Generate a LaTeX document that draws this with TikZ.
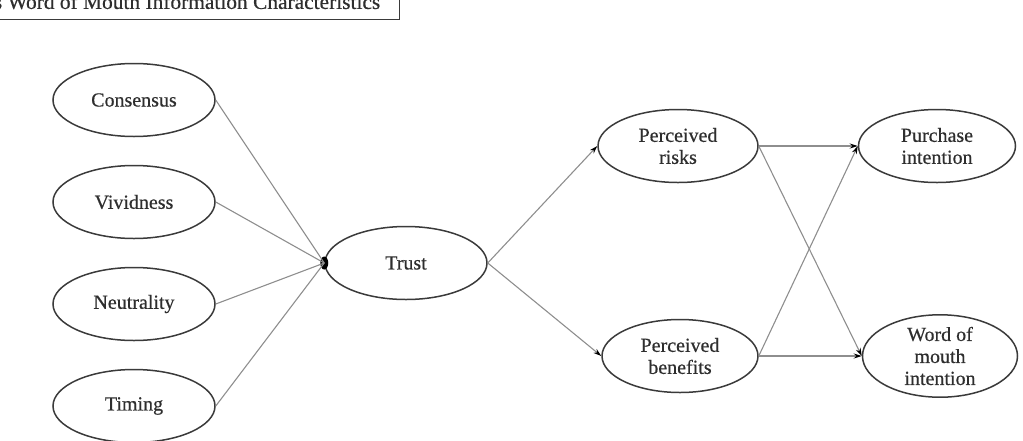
\documentclass[tikz,border=0pt]{standalone}
\usepackage{fontspec}
\setmainfont{Liberation Serif}
\newfontfamily\labelfont[FakeBold=0.5]{Liberation Serif}
\usetikzlibrary{shapes.geometric,arrows.meta}
\definecolor{rim}{HTML}{3A3A3A}
\definecolor{wire}{HTML}{8E8E8E}
\definecolor{ink}{HTML}{2E2E2E}
\begin{document}
\begin{tikzpicture}[x=1pt,y=-1pt,
  construct/.style={draw=rim,line width=1.5pt,ellipse,inner sep=0pt,
    minimum width=162pt,minimum height=73pt,align=center,text=ink,
    font=\labelfont\fontsize{20}{22}\selectfont},
  link/.style={draw=wire,line width=1.1pt},
  arrow/.style={link,-{Stealth[length=8pt,width=5pt,color=black]}}]
\useasboundingbox (0,0) rectangle (1023,440);

% heading box, running off the top left corner
\node[draw=rim,line width=1.5pt,anchor=south east,inner xsep=19pt,inner ysep=10pt,
  text=ink,font=\labelfont\fontsize{21.4}{24}\selectfont] (title) at (400,20)
  {s Word of Mouth Information Characteristics};

% information characteristics
\node[construct] (cons) at (134,100) {Consensus};
\node[construct] (viv)  at (134,202) {Vividness};
\node[construct] (neu)  at (134,304) {Neutrality};
\node[construct] (tim)  at (134,406) {Timing};

% mediators and outcomes
\node[construct] (trust) at (406,263) {Trust};
\node[construct,minimum width=160pt] (risk) at (678,146) {Perceived\\risks};
\node[construct,minimum width=156pt] (ben)  at (680,356) {Perceived\\benefits};
\node[construct,minimum width=157pt] (pur)  at (937,146) {Purchase\\intention};
\node[construct,minimum width=155pt] (wom)  at (940,356) {Word of\\mouth\\intention};

% merged arrowheads where the four paths meet Trust
\node[ellipse,fill=black,inner sep=0pt,minimum width=8pt,minimum height=13pt] (join) at (trust.west) {};

\draw[link] (cons.east) -- (join.center);
\draw[link] (viv.east)  -- (join.center);
\draw[link] (neu.east)  -- (join.center);
\draw[link] (tim.east)  -- (join.center);

\draw[arrow] (trust.east) -- (risk.west);
\draw[arrow] (trust.east) -- (ben.west);
\draw[arrow] (risk.east) -- (pur.west);
\draw[arrow] (risk.east) -- (wom.west);
\draw[arrow] (ben.east) -- (pur.west);
\draw[arrow] (ben.east) -- (wom.west);
\end{tikzpicture}
\end{document}
